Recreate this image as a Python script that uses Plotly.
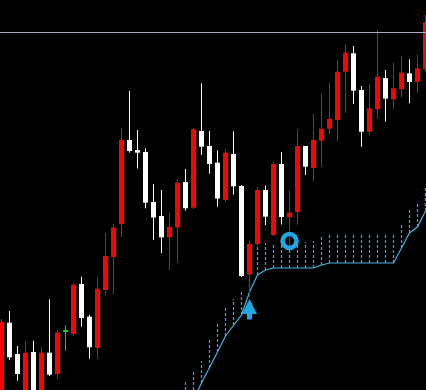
import plotly.graph_objects as go

# ---- data (price units) ----
idx = list(range(54))
opens = [-5, 67.3, 36, -5, 38, -5, 37.3, 16, 58.3, 56, 106, 73.3, 42, 100, 133, 166, 250, 240, 238, 188,
         174, 152.7, 162.5, 208, 182.3, 259, 244, 227.3, 190, 236, 204, 115.5, 146, 200, 155, 226, 172.7, 178, 244, 222,
         249.3, 261.3, 270, 318.3, 336.7, 300, 258.3, 280.7, 312, 290.7, 300.7, 316.7, 308, 320.7]
highs = [71, 79, 44, 49.3, 49.3, 43.3, 90.7, 60, 64.7, 106.7, 113.3, 75.3, 112.7, 156.7, 166, 261.7, 299, 260, 241.7, 206,
         200, 176.7, 211, 221, 261.8, 306.7, 259, 239.7, 240.7, 258.7, 205, 149.3, 203, 204.7, 228.3, 238, 199.5, 260.7, 244, 276,
         296.3, 307.7, 330, 346, 344, 304, 306, 360, 320, 327.3, 334, 330.7, 335.3, 375]
lows = [-10, 30, 9.3, -10, -10, -10, 14, 11.3, 39.3, 54, 63.3, 31.3, 31.3, 94.5, 96, 153, 237.3, 221.5, 181.7, 150,
        137, 120, 127.3, 179.3, 181, 235, 216.3, 183.3, 188, 195.5, 113, 93, 145, 165, 154, 165.5, 144, 165.5, 215, 208.3,
        223.3, 256, 248.3, 277.3, 286, 243.3, 255, 271.7, 268.3, 280.7, 292.7, 286.7, 297.3, 318]
closes = [68, 32.7, 16, 37.3, -5, 37.3, 15.3, 57.3, 58.3, 105.3, 72, 42.7, 101.3, 134, 162.5, 250, 239, 237.3, 187.3, 172.5,
          152.7, 163, 207.3, 181.7, 260.7, 243.3, 226, 191.5, 237.3, 203.7, 114, 146, 200, 173.3, 226, 173, 177.3, 244, 223.3, 250,
          261.3, 271.2, 318.3, 337.3, 299.3, 258.3, 281.7, 313.3, 291.3, 301.7, 317.3, 308, 321.7, 368]

# trailing stop line and dotted band (from candle 23 on)
trail_idx = list(range(23, 54))
trail_line = [-25, -10, 7, 22, 38, 54, 65, 75, 98, 115, 120, 122, 122, 122, 122, 122, 122, 125,
              127, 127, 127, 127, 127, 127, 127, 127, 127, 142, 157, 163, 179]
band_top = [8, 20, 29, 50, 67, 82, 91, 100, 110, 144, 147, 147, 147, 147, 148, 148, 149, 154,
            157, 157, 157, 157, 157, 157, 157, 157, 157, 167, 182, 188, 203]

level_line = 357.5
buy_arrow = (31, 91)      # candle index, tip price
stop_mark = (36, 149)     # candle index, price

RED = "#ff0000"
WHITE = "#ffffff"
GREEN = "#00e000"
CYAN = "#1fa8e4"
LINE_C = "#45b4e6"
DASH_C = "#2ea6f0"

fig = go.Figure()

# dotted band
dx, dy = [], []
for k, b, t in zip(trail_idx, trail_line, band_top):
    dx += [k, k, None]
    dy += [b, t, None]
fig.add_trace(go.Scatter(x=dx, y=dy, mode="lines",
                         line=dict(color=DASH_C, width=1.2, dash="3px,2px"), hoverinfo="skip"))

# trailing line
fig.add_trace(go.Scatter(x=trail_idx, y=trail_line, mode="lines",
                         line=dict(color=LINE_C, width=1.2), hoverinfo="skip"))

# wicks and bodies
groups = {"up": ([], [], [], []), "down": ([], [], [], []), "doji": ([], [], [], [])}
for k, o, h, l, c in zip(idx, opens, highs, lows, closes):
    key = "up" if c > o else ("down" if c < o else "doji")
    groups[key][0].append(k)
    groups[key][1].append((o, c))
    groups[key][2].append(h)
    groups[key][3].append(l)

colors = {"up": RED, "down": WHITE, "doji": GREEN}
for key, (ks, oc, hs, ls) in groups.items():
    wx, wy = [], []
    for k, h, l in zip(ks, hs, ls):
        wx += [k, k, None]
        wy += [l, h, None]
    fig.add_trace(go.Scatter(x=wx, y=wy, mode="lines",
                             line=dict(color=colors[key], width=1), hoverinfo="skip"))
    bases = [min(o, c) for o, c in oc]
    heights = [max(abs(c - o), 1.0) for o, c in oc]
    fig.add_trace(go.Bar(x=ks, y=heights, base=bases, width=0.625,
                         marker=dict(color=colors[key], line=dict(width=0)), hoverinfo="skip"))

# stop marker ring
fig.add_trace(go.Scatter(x=[stop_mark[0]], y=[stop_mark[1]], mode="markers",
                         marker=dict(symbol="circle-open", size=14, color=CYAN,
                                     line=dict(width=4.5, color=CYAN)), hoverinfo="skip"))

# level line
fig.add_hline(y=level_line, line=dict(color="#a2abbb", width=1))

# buy arrow
fig.add_annotation(x=buy_arrow[0], y=buy_arrow[1], text="", showarrow=True,
                   ax=0, ay=22, arrowhead=2, arrowsize=0.6, arrowwidth=5,
                   arrowcolor=CYAN, standoff=0)

fig.update_layout(
    width=426, height=390,
    margin=dict(l=0, r=0, t=0, b=0),
    paper_bgcolor="#000000", plot_bgcolor="#000000",
    showlegend=False, barmode="overlay",
    xaxis=dict(range=[-0.1875, 53.0625], visible=False, fixedrange=True),
    yaxis=dict(range=[0, 390], visible=False, fixedrange=True),
)

fig.write_html("out.html")
